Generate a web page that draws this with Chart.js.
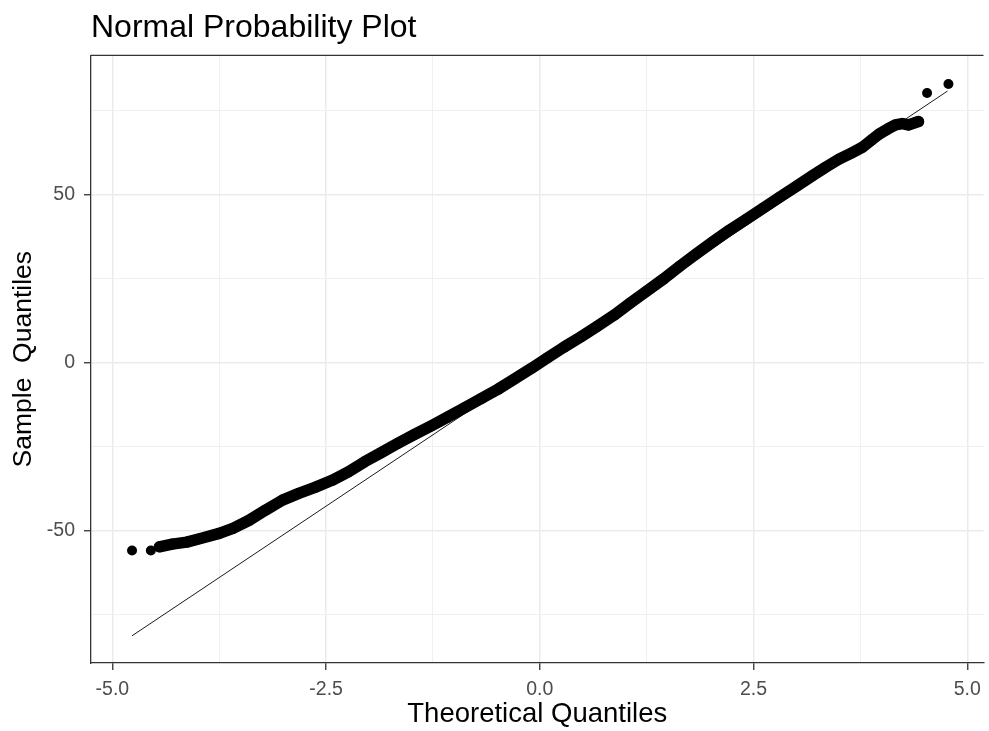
<!DOCTYPE html>
<html>
    <head>
        <title>Normal Probability Plot</title>
        <script src="https://cdn.jsdelivr.net/npm/chart.js@4.4.1/dist/chart.umd.min.js"></script>
        <style>
            body { margin: 0; background: #ffffff; }
        </style>
    </head>
    <body>
        <canvas id="qqChart" width="989" height="731"></canvas>
        <script>
            // points (theoretical quantile, sample quantile)
            const bandX = [-4.45, -4.3, -4.13, -3.98, -3.75, -3.59, -3.4, -3.21, -3.01, -2.82, -2.63, -2.43, -2.24, -2.05, -1.85, -1.66, -1.47, -1.27, -1.08, -0.88, -0.68, -0.49, -0.3, -0.1, 0.09, 0.28, 0.48, 0.67, 0.87, 1.06, 1.25, 1.45, 1.64, 1.83, 2.03, 2.22, 2.42, 2.61, 2.8, 3.0, 3.19, 3.35, 3.5, 3.65, 3.77, 3.88, 3.97, 4.07, 4.16, 4.24, 4.31, 4.43];
            const bandY = [-54.8, -54.0, -53.4, -52.4, -50.8, -49.3, -46.9, -43.9, -40.9, -38.9, -37.1, -35.0, -32.5, -29.5, -26.7, -24.0, -21.4, -18.8, -16.2, -13.4, -10.6, -7.9, -4.9, -1.7, 1.5, 4.6, 7.7, 10.8, 14.2, 17.8, 21.3, 25.0, 28.8, 32.4, 36.1, 39.5, 42.8, 46.0, 49.2, 52.5, 55.7, 58.3, 60.6, 62.5, 64.1, 66.3, 68.1, 69.6, 70.8, 71.2, 70.8, 71.8];
            const outlierX = [-4.77, -4.55, 4.53, 4.78];
            const outlierY = [-55.9, -55.9, 80.3, 83.0];
            const refLineX = [-4.77, 4.77];
            const refLineY = [-81.3, 80.9];

            const xTicks = [-5, -3.75, -2.5, -1.25, 0, 1.25, 2.5, 3.75, 5];
            const xLabels = { "-5": "-5.0", "-2.5": "-2.5", "0": "0.0", "2.5": "2.5", "5": "5.0" };
            const yTicks = [-75, -50, -25, 0, 25, 50, 75];
            const yLabels = { "-50": "-50", "0": "0", "50": "50" };

            const toPoints = (xs, ys) => xs.map((x, i) => ({ x: x, y: ys[i] }));
            const isMajor = (labels, v) => labels[String(v)] !== undefined;

            const fontFamily = "'Liberation Sans', Arial, sans-serif";

            const panelBorder = {
                id: "panelBorder",
                afterDraw(chart) {
                    const { ctx, chartArea } = chart;
                    ctx.save();
                    ctx.strokeStyle = "#333333";
                    ctx.lineWidth = 1.3;
                    ctx.beginPath();
                    ctx.moveTo(chartArea.left, chartArea.top);
                    ctx.lineTo(chartArea.right, chartArea.top);
                    ctx.stroke();
                    ctx.restore();
                }
            };

            const gridFor = (labels) => ({
                color: (c) => isMajor(labels, c.tick.value) ? "#ebebeb" : "#f0f0f0",
                lineWidth: (c) => isMajor(labels, c.tick.value) ? 1.5 : 1,
                drawTicks: true,
                tickLength: 7,
                tickColor: (c) => isMajor(labels, c.tick.value) ? "#333333" : "rgba(0,0,0,0)",
                tickWidth: 1.3,
            });

            new Chart(document.getElementById("qqChart"), {
                type: "scatter",
                data: {
                    datasets: [
                        {
                            label: "qq line",
                            data: toPoints(refLineX, refLineY),
                            showLine: true,
                            borderColor: "#000000",
                            borderWidth: 0.9,
                            pointRadius: 0,
                            order: 0,
                        },
                        {
                            label: "sample",
                            data: toPoints(bandX, bandY),
                            showLine: true,
                            borderColor: "#000000",
                            borderWidth: 11.5,
                            borderCapStyle: "round",
                            borderJoinStyle: "round",
                            pointRadius: 5.5,
                            pointBackgroundColor: "#000000",
                            pointBorderWidth: 0,
                            order: 1,
                        },
                        {
                            label: "tails",
                            data: toPoints(outlierX, outlierY),
                            showLine: false,
                            pointRadius: 5,
                            pointBackgroundColor: "#000000",
                            pointBorderWidth: 0,
                            order: 1,
                        },
                    ]
                },
                options: {
                    responsive: false,
                    animation: false,
                    layout: { padding: { left: 0, top: 0, bottom: 0, right: -6 } },
                    plugins: {
                        legend: { display: false },
                        tooltip: { enabled: false },
                        title: {
                            display: true,
                            text: "Normal Probability Plot",
                            align: "start",
                            fullSize: false,
                            color: "#000000",
                            font: { family: fontFamily, size: 32, weight: "normal" },
                            padding: { top: 9, bottom: 8 },
                        },
                    },
                    scales: {
                        x: {
                            type: "linear",
                            min: -5.25,
                            max: 5.19,
                            afterBuildTicks: (scale) => { scale.ticks = xTicks.map(v => ({ value: v })); },
                            afterFit: (scale) => {
                                scale.height = 68;
                                scale.paddingLeft = 0;
                                scale.paddingRight = 0;
                            },
                            ticks: {
                                autoSkip: false,
                                maxRotation: 0,
                                padding: 8,
                                color: "#4d4d4d",
                                font: { family: fontFamily, size: 19.5 },
                                callback: (v) => xLabels[String(v)] || "",
                            },
                            grid: gridFor(xLabels),
                            border: { display: true, color: "#333333", width: 1.3 },
                            title: {
                                display: true,
                                text: "Theoretical Quantiles",
                                color: "#000000",
                                font: { family: fontFamily, size: 27.5 },
                                padding: { top: 0, bottom: 0 },
                            },
                        },
                        y: {
                            type: "linear",
                            min: -89.4,
                            max: 91.5,
                            afterBuildTicks: (scale) => { scale.ticks = yTicks.map(v => ({ value: v })); },
                            afterFit: (scale) => { scale.width = 91; },
                            ticks: {
                                autoSkip: false,
                                padding: 9,
                                color: "#4d4d4d",
                                font: { family: fontFamily, size: 19.5 },
                                callback: (v) => yLabels[String(v)] || "",
                            },
                            grid: gridFor(yLabels),
                            border: { display: true, color: "#333333", width: 1.3 },
                            title: {
                                display: true,
                                text: "Sample  Quantiles",
                                color: "#000000",
                                font: { family: fontFamily, size: 26.5 },
                                padding: { top: 8, bottom: 0 },
                            },
                        },
                    },
                },
                plugins: [panelBorder],
            });
        </script>
    </body>
</html>
